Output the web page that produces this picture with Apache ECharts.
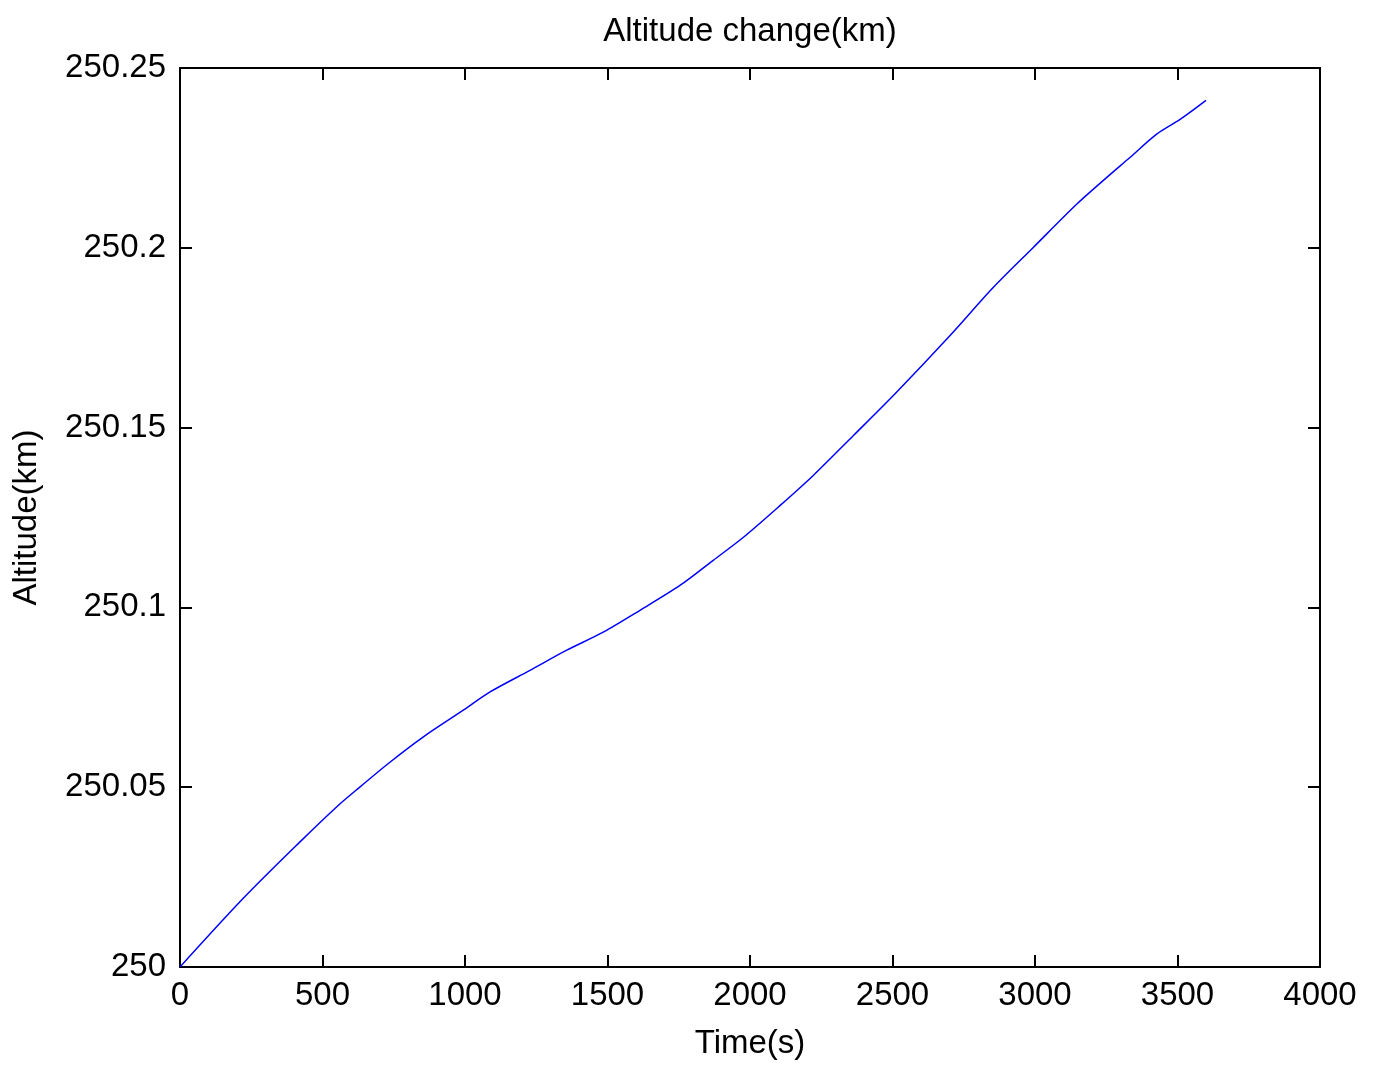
<!DOCTYPE html>
<html>
<head>
<meta charset="utf-8">
<script src="https://cdn.jsdelivr.net/npm/echarts@6/dist/echarts.min.js"></script>
<style>
  html, body { margin: 0; padding: 0; background: #fff; }
  #main { width: 1375px; height: 1068px; }
</style>
</head>
<body>
<div id="main"></div>
<script>
// time (s) and altitude (km)
var times = [0, 222, 421, 556, 632, 731, 854, 994, 1088, 1228, 1357, 1485, 1614, 1754, 1871,
    1977, 2105, 2222, 2363, 2509, 2702, 2854, 2994, 3146, 3251, 3333, 3427, 3509, 3600];
var altitudes = [250.0000, 250.0191, 250.0348, 250.0450, 250.0501, 250.0566, 250.0640, 250.0714,
    250.0765, 250.0825, 250.0881, 250.0931, 250.0992, 250.1061, 250.1131, 250.1195, 250.1283,
    250.1367, 250.1478, 250.1594, 250.1756, 250.1890, 250.2001, 250.2121, 250.2195, 250.2251,
    250.2316, 250.2357, 250.2410];

(function () {
    var chartDom = document.getElementById("main");
    var myChart = echarts.init(chartDom);
    var font = "'Liberation Sans', Arial, sans-serif";

    var data = times.map(function (t, i) { return [t, altitudes[i]]; });

    function axisLine() {
        return { show: true, onZero: false, lineStyle: { color: '#000', width: 2 } };
    }
    function axisTick() {
        return { show: true, inside: true, length: 12, lineStyle: { color: '#000', width: 2 } };
    }

    var option = {
        backgroundColor: '#fff',
        title: {
            text: 'Altitude change(km)',
            left: 745,
            textAlign: 'center',
            top: 10,
            textStyle: { fontFamily: font, fontSize: 33, fontWeight: 'normal', color: '#000' }
        },
        grid: { left: 180, right: 55, top: 68, bottom: 101 },
        xAxis: [{
            type: 'value',
            position: 'bottom',
            min: 0, max: 4000, interval: 500,
            name: 'Time(s)',
            nameLocation: 'middle',
            nameGap: 60,
            nameTextStyle: { fontFamily: font, fontSize: 33, color: '#000' },
            axisLine: axisLine(),
            axisTick: axisTick(),
            axisLabel: {
                fontFamily: font, fontSize: 33, color: '#000', margin: 12,
                formatter: function (v) { return String(v); }
            },
            splitLine: { show: false }
        }, {
            type: 'value',
            position: 'top',
            min: 0, max: 4000, interval: 500,
            axisLine: axisLine(),
            axisTick: axisTick(),
            axisLabel: { show: false },
            splitLine: { show: false }
        }],
        yAxis: [{
            type: 'value',
            position: 'left',
            min: 250, max: 250.25, interval: 0.05,
            name: 'Altitude(km)',
            nameLocation: 'middle',
            nameGap: 137,
            nameTextStyle: { fontFamily: font, fontSize: 33, color: '#000' },
            axisLine: axisLine(),
            axisTick: axisTick(),
            axisLabel: {
                fontFamily: font, fontSize: 33, color: '#000', margin: 14,
                formatter: function (v) { return String(+v.toFixed(2)); }
            },
            splitLine: { show: false }
        }, {
            type: 'value',
            position: 'right',
            min: 250, max: 250.25, interval: 0.05,
            axisLine: axisLine(),
            axisTick: axisTick(),
            axisLabel: { show: false },
            splitLine: { show: false }
        }],
        series: [{
            type: 'line',
            data: data,
            showSymbol: false,
            smooth: 0.3,
            lineStyle: { color: '#0000ff', width: 1.5 },
            animation: false
        }]
    };

    myChart.setOption(option);
    window.addEventListener("resize", function () {
        myChart.resize();
    });
})();
</script>
</body>
</html>
